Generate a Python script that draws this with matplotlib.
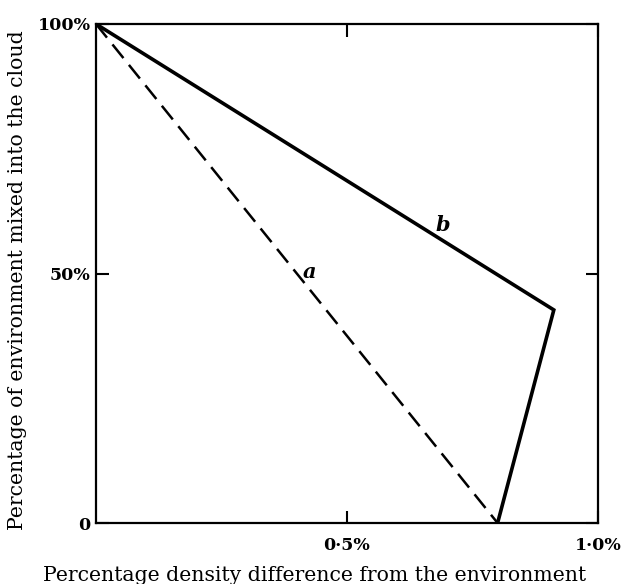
import matplotlib
matplotlib.use('Agg')
import matplotlib.pyplot as plt

# datos
a_x = [0.0, 0.80]
a_y = [100.0, 0.0]
b_x = [0.0, 0.912, 0.80]
b_y = [100.0, 42.7, 0.0]

x_ticks = [0.5, 1.0]
x_labels = ['0·5%', '1·0%']
y_ticks = [0, 50, 100]
y_labels = ['0', '50%', '100%']

plt.rcParams['font.family'] = ['DejaVu Serif']

fig = plt.figure(figsize=(6.25, 5.84), dpi=100)
# ejes: izq 96px, der 598px, arriba 24px, abajo 523px
ax = fig.add_axes([96 / 625, 1 - 523 / 584, 502 / 625, 499 / 584])

ax.plot(a_x, a_y, color='black', linewidth=1.8, linestyle=(0, (7, 3.5)))
ax.plot(b_x, b_y, color='black', linewidth=2.6, solid_joinstyle='miter')

ax.text(0.426, 50.3, 'a', fontsize=15, fontstyle='italic', fontweight='bold',
        ha='center', va='center')
ax.text(0.69, 59.7, 'b', fontsize=15, fontstyle='italic', fontweight='bold',
        ha='center', va='center')

ax.set_xlim(0, 1.0)
ax.set_ylim(0, 100)
ax.set_xticks(x_ticks)
ax.set_xticklabels(x_labels, fontsize=12.5, fontweight='bold')
ax.set_yticks(y_ticks)
ax.set_yticklabels(y_labels, fontsize=12.5, fontweight='bold')
ax.tick_params(direction='in', length=9, width=1.5, top=True, right=True, pad=4)
ax.tick_params(axis='x', pad=10)
for s in ax.spines.values():
    s.set_linewidth(1.6)

fig.text(315 / 625, 1 - 581 / 584, 'Percentage density difference from the environment',
         fontsize=14.7, ha='center', va='baseline')
fig.text(18 / 625, 1 - 280 / 584, 'Percentage of environment mixed into the cloud',
         fontsize=14.7, ha='center', va='center', rotation=90)

fig.savefig('out.png', dpi=100)
